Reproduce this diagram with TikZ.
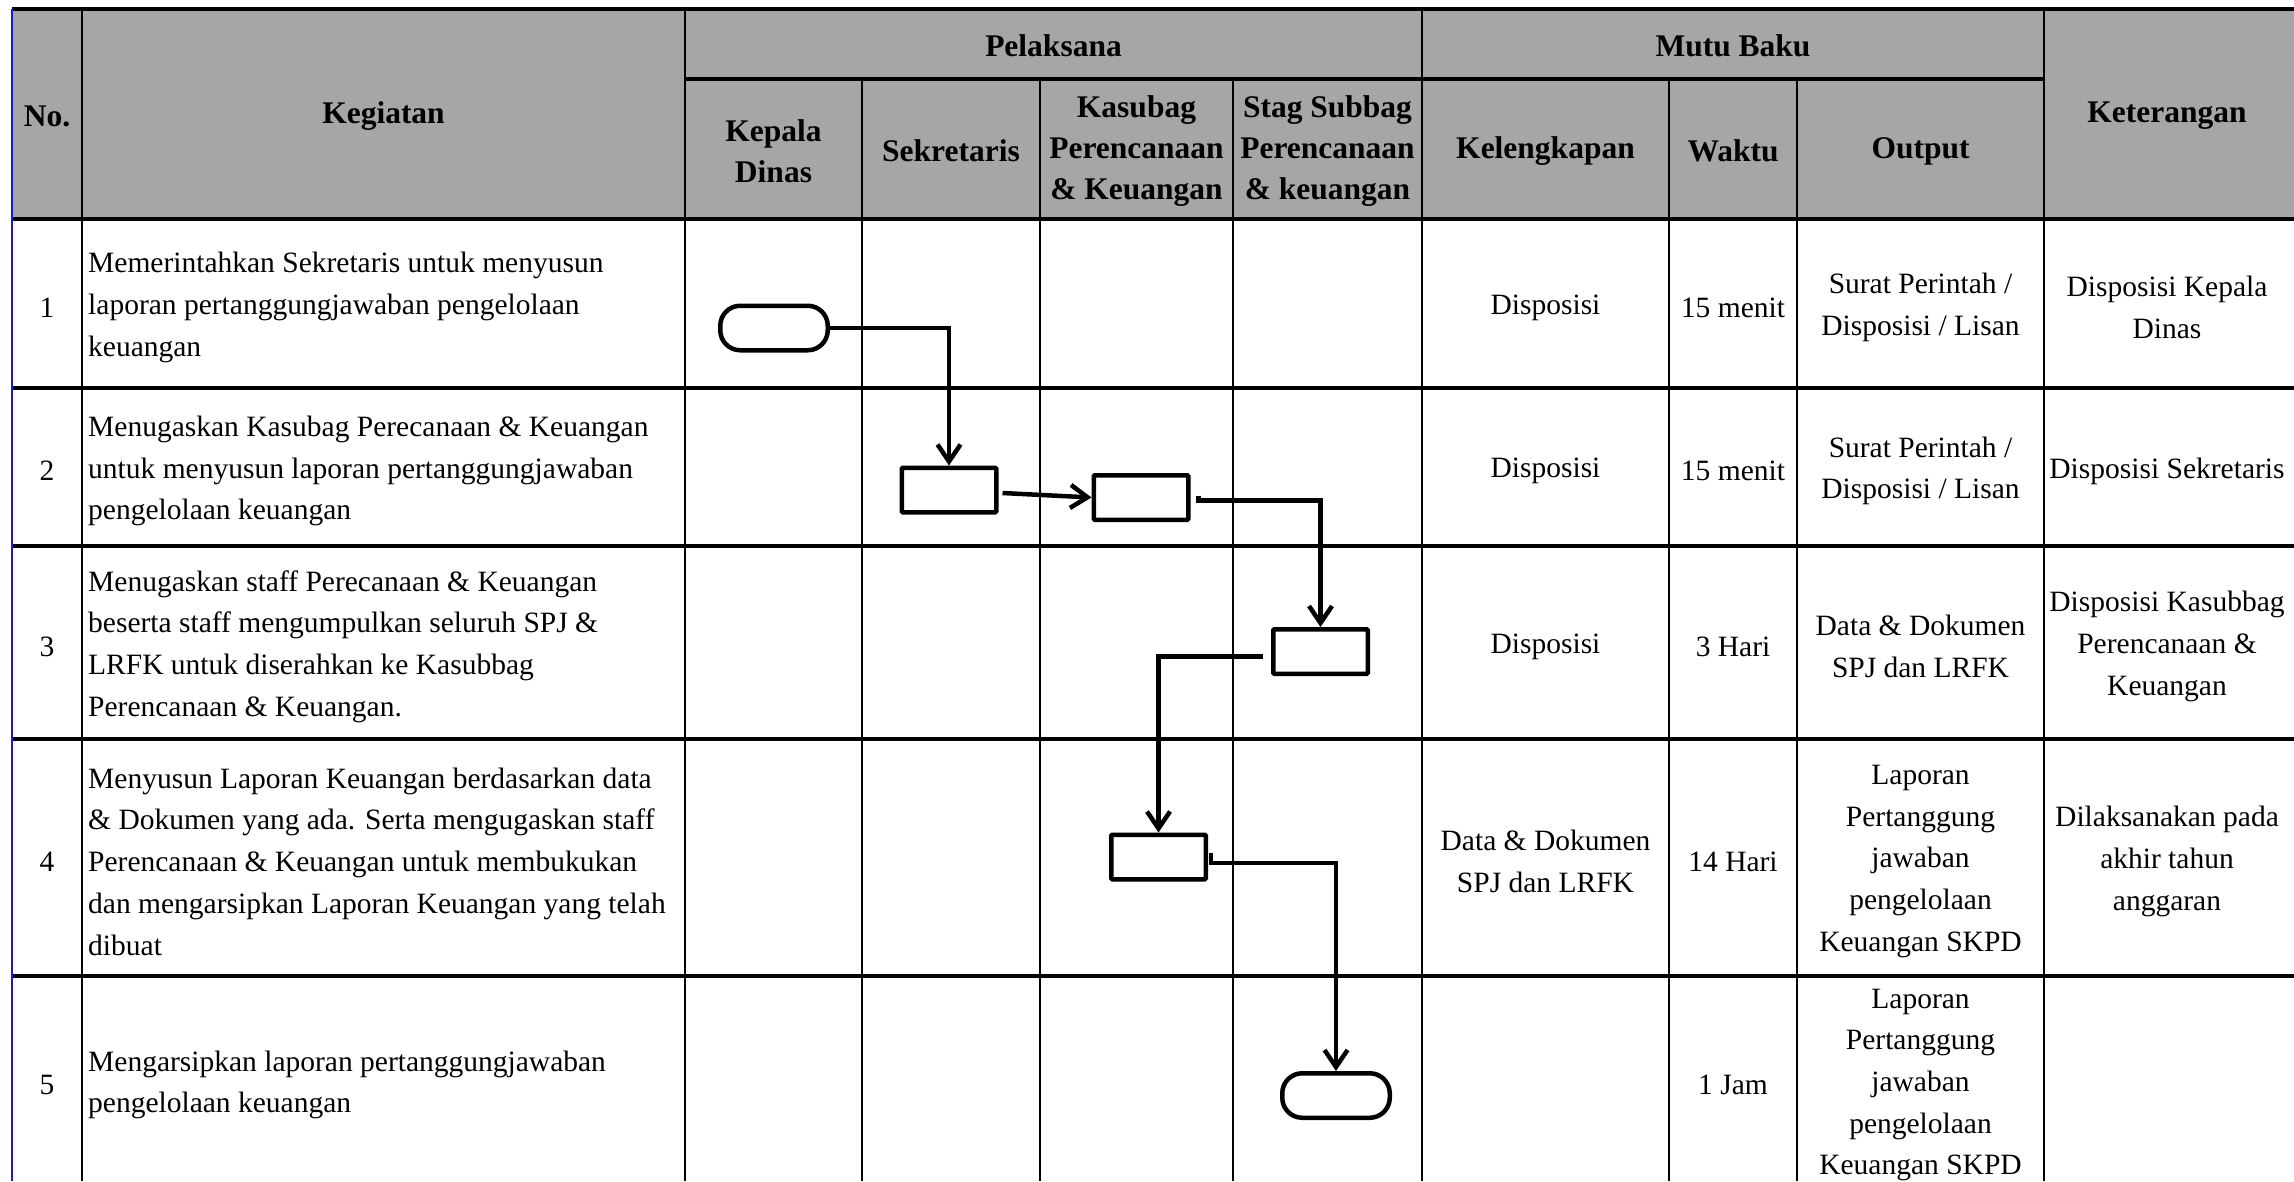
\documentclass[tikz,border=0pt]{standalone}
\usepackage{fontspec}
\setmainfont{Liberation Serif}
\usepackage{tikz}
\usetikzlibrary{arrows.meta}
\definecolor{headgray}{HTML}{A6A6A6}
\definecolor{edgeblue}{HTML}{1A1AD6}

\begin{document}
\begin{tikzpicture}[x=1pt, y=-1pt,
    head/.style={font=\fontsize{31.5}{41}\selectfont\bfseries,
                 align=center, inner sep=0pt, yshift=-2pt},
    cell/.style={font=\fontsize{29.5}{41.7}\selectfont,
                 align=center, inner sep=0pt, yshift=-4pt},
    task/.style={font=\fontsize{29.5}{41.7}\selectfont,
                 align=left, anchor=west, inner sep=0pt, yshift=-4pt},
    term/.style={rectangle, rounded corners=20pt, draw, line width=4.5pt,
                 minimum width=107.5pt, minimum height=44.5pt, inner sep=0pt},
    proc/.style={rectangle, rounded corners=1pt, draw, line width=4.5pt,
                 minimum width=94.5pt, minimum height=44.5pt, inner sep=0pt},
    arr/.style={-{Straight Barb[length=17pt,width=23pt]}, line width=4.5pt},
    hline/.style={line width=3.5pt},
    vline/.style={line width=2.5pt}
  ]
  \useasboundingbox (0,0) rectangle (2294,1181);
  %% Header background
  \fill[headgray] (12,9) rectangle (2294,219);
  %% Horizontal rules
  \draw[hline] (12,9) -- (2294,9);
  \draw[hline] (685,79) -- (2044,79);
  \draw[hline] (12,219) -- (2294,219);
  \draw[hline] (12,388) -- (2294,388);
  \draw[hline] (12,546) -- (2294,546);
  \draw[hline] (12,739) -- (2294,739);
  \draw[hline] (12,976) -- (2294,976);
  %% Vertical rules
  \draw[vline] (82,9) -- (82,1181);
  \draw[vline] (685,9) -- (685,1181);
  \draw[vline] (862,79) -- (862,1181);
  \draw[vline] (1040,79) -- (1040,1181);
  \draw[vline] (1233,79) -- (1233,1181);
  \draw[vline] (1422,9) -- (1422,1181);
  \draw[vline] (1669,79) -- (1669,1181);
  \draw[vline] (1797,79) -- (1797,1181);
  \draw[vline] (2044,9) -- (2044,1181);
  \draw[edgeblue, line width=2.5pt] (12,9) -- (12,1181);

  %% Header texts
  \node[head] (hNo) at (47,114) {No.};
  \node[head] (hKeg) at (383.5,114) {Kegiatan};
  \node[head] (hPel) at (1053.5,44) {Pelaksana};
  \node[head] (hMutu) at (1733,44) {Mutu Baku};
  \node[head] (hKet) at (2167,114) {Keterangan};
  \node[head] (hKepala) at (773.5,149) {Kepala\\Dinas};
  \node[head] (hSekr) at (951,149) {Sekretaris};
  \node[head] (hKasub) at (1136.5,149) {Kasubag\\Perencanaan\\\& Keuangan};
  \node[head] (hStag) at (1327.5,149) {Stag Subbag\\Perencanaan\\\& keuangan};
  \node[head] (hLeng) at (1545.5,149) {Kelengkapan};
  \node[head] (hWaktu) at (1733,149) {Waktu};
  \node[head] (hOut) at (1920.5,149) {Output};

  %% Row 1
  \node[cell] (n1) at (47,303.5) {1};
  \node[task] (k1) at (88,303.5)
        {Memerintahkan Sekretaris untuk menyusun\\laporan pertanggungjawaban pengelolaan\\keuangan};
  \node[cell] (l1) at (1545.5,303.5) {Disposisi};
  \node[cell] (w1) at (1733,303.5) {15 menit};
  \node[cell] (o1) at (1920.5,303.5) {Surat Perintah /\\Disposisi / Lisan};
  \node[cell] (c1) at (2167,303.5) {Disposisi Kepala\\Dinas};
  %% Row 2
  \node[cell] (n2) at (47,467) {2};
  \node[task] (k2) at (88,467)
        {Menugaskan Kasubag Perecanaan \& Keuangan\\untuk menyusun laporan pertanggungjawaban\\pengelolaan keuangan};
  \node[cell] (l2) at (1545.5,467) {Disposisi};
  \node[cell] (w2) at (1733,467) {15 menit};
  \node[cell] (o2) at (1920.5,467) {Surat Perintah /\\Disposisi / Lisan};
  \node[cell] (c2) at (2167,467) {Disposisi Sekretaris};
  %% Row 3
  \node[cell] (n3) at (47,642.5) {3};
  \node[task] (k3) at (88,642.5)
        {Menugaskan staff Perecanaan \& Keuangan\\beserta staff mengumpulkan seluruh SPJ \&\\LRFK untuk diserahkan ke Kasubbag\\Perencanaan \& Keuangan.};
  \node[cell] (l3) at (1545.5,642.5) {Disposisi};
  \node[cell] (w3) at (1733,642.5) {3 Hari};
  \node[cell] (o3) at (1920.5,642.5) {Data \& Dokumen\\SPJ dan LRFK};
  \node[cell] (c3) at (2167,642.5) {Disposisi Kasubbag\\Perencanaan \&\\Keuangan};
  %% Row 4
  \node[cell] (n4) at (47,857.5) {4};
  \node[task] (k4) at (88,857.5)
        {Menyusun Laporan Keuangan berdasarkan data\\\& Dokumen yang ada. Serta mengugaskan staff\\Perencanaan \& Keuangan untuk membukukan\\dan mengarsipkan Laporan Keuangan yang telah\\dibuat};
  \node[cell] (l4) at (1545.5,857.5) {Data \& Dokumen\\SPJ dan LRFK};
  \node[cell] (w4) at (1733,857.5) {14 Hari};
  \node[cell] (o4) at (1920.5,857.5) {Laporan\\Pertanggung\\jawaban\\pengelolaan\\Keuangan SKPD};
  \node[cell] (c4) at (2167,857.5) {Dilaksanakan pada\\akhir tahun\\anggaran};
  %% Row 5
  \node[cell] (n5) at (47,1081) {5};
  \node[task] (k5) at (88,1081)
        {Mengarsipkan laporan pertanggungjawaban\\pengelolaan keuangan};
  \node[cell] (w5) at (1733,1081) {1 Jam};
  \node[cell] (o5) at (1920.5,1081) {Laporan\\Pertanggung\\jawaban\\pengelolaan\\Keuangan SKPD};

  %% Flow shapes
  \node[term] (start) at (774,328) {};
  \node[proc] (sekr) at (949,490) {};
  \node[proc] (kasub) at (1141,497.5) {};
  \node[proc] (stag) at (1320.5,651.5) {};
  \node[proc] (susun) at (1158.5,857) {};
  \node[term] (finish) at (1336,1095.5) {};

  %% Flow connectors
  \draw[arr] (start.east) -| (sekr.north);
  \draw[arr] ([xshift=4pt,yshift=-3pt]sekr.east) -- (kasub.west);
  \draw[arr] ([xshift=8pt,yshift=2pt]kasub.east)
        -- ([xshift=8pt,yshift=-3pt]kasub.east) -| (stag.north);
  \draw[arr] ([xshift=-8pt,yshift=-5pt]stag.west) -| (susun.north);
  \draw[arr] ([xshift=3pt,yshift=4pt]susun.east)
        -- ([xshift=3pt,yshift=-6pt]susun.east) -| (finish.north);
\end{tikzpicture}
\end{document}
